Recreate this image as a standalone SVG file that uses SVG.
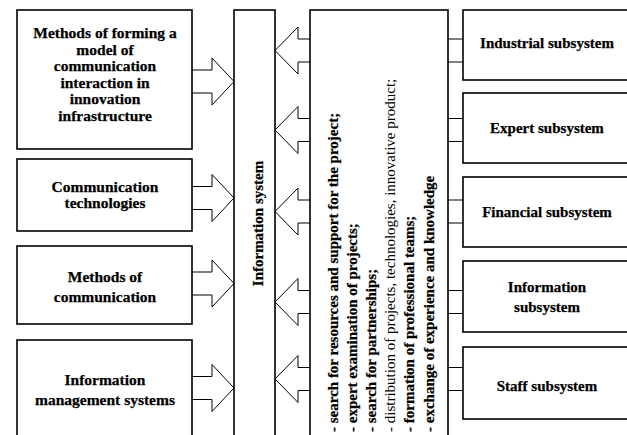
<svg xmlns="http://www.w3.org/2000/svg" width="627" height="435" viewBox="0 0 627 435">
<style>
.box{fill:#fff;stroke:#000;stroke-width:1.6}
.arr{fill:#fff;stroke:#000;stroke-width:1}
.t{font-family:"Liberation Serif","Times New Roman",serif;font-size:15px;font-weight:bold;fill:#000;stroke:#000;stroke-width:0.25}
.l{font-size:15.5px}
.c{text-anchor:middle}
.n{font-weight:normal;stroke:none}
</style>
<rect width="627" height="435" fill="#fff"/>
<g id="connectors">
  <polyline class="arr" points="192,70 212,70 212,58 234,81.5 212,105 212,93 192,93"/>
  <polyline class="arr" points="192,186.5 212,186.5 212,174.5 234,198 212,221.5 212,209.5 192,209.5"/>
  <polyline class="arr" points="192,272 212,272 212,260 234,283.5 212,307 212,295 192,295"/>
  <polyline class="arr" points="192,376.5 212,376.5 212,364.5 234,388 212,411.5 212,399.5 192,399.5"/>
  <polyline class="arr" points="463,39 298,39 298,27 275,50.5 298,74 298,62 463,62"/>
  <polyline class="arr" points="463,118.5 298,118.5 298,106.5 275,130 298,153.5 298,141.5 463,141.5"/>
  <polyline class="arr" points="463,200 298,200 298,188 275,211.5 298,235 298,223 463,223"/>
  <polyline class="arr" points="463,290.5 298,290.5 298,278.5 275,302 298,325.5 298,313.5 463,313.5"/>
  <polyline class="arr" points="463,367.5 298,367.5 298,355.5 275,379 298,402.5 298,390.5 463,390.5"/>
</g>
<g id="methods-forming">
  <rect class="box" x="17" y="10" width="175" height="139"/>
  <text class="t l c"><tspan x="105" y="38">Methods of forming a</tspan><tspan x="105" y="54.5">model of</tspan><tspan x="105" y="71">communication</tspan><tspan x="105" y="87.5">interaction in</tspan><tspan x="105" y="104">innovation</tspan><tspan x="105" y="120.5">infrastructure</tspan></text>
</g>
<g id="comm-tech">
  <rect class="box" x="17" y="159" width="175" height="72"/>
  <text class="t l c"><tspan x="105" y="191.5">Communication</tspan><tspan x="105" y="207.5">technologies</tspan></text>
</g>
<g id="methods-comm">
  <rect class="box" x="17" y="246" width="175" height="78"/>
  <text class="t l c"><tspan x="105" y="281.5">Methods of</tspan><tspan x="105" y="301.5">communication</tspan></text>
</g>
<g id="info-mgmt">
  <rect class="box" x="17" y="340" width="175" height="110"/>
  <text class="t l c"><tspan x="105" y="384.5">Information</tspan><tspan x="105" y="404.5">management systems</tspan></text>
</g>
<g id="info-system">
  <rect class="box" x="234" y="10" width="41" height="440"/>
  <text class="t c" transform="translate(263,223.5) rotate(-90)">Information system</text>
</g>
<g id="functions">
  <rect class="box" x="310" y="10" width="138" height="440"/>
  <text class="t" transform="translate(338,432) rotate(-90)">- search for resources and support for the project;</text>
  <text class="t" transform="translate(357,432) rotate(-90)">- expert examination of projects;</text>
  <text class="t" transform="translate(376,432) rotate(-90)">- search for partnerships;</text>
  <text class="t n" transform="translate(395,432) rotate(-90)">- distribution of projects, technologies, innovative product;</text>
  <text class="t" transform="translate(414,432) rotate(-90)">- formation of professional teams;</text>
  <text class="t" transform="translate(434,432) rotate(-90)">- exchange of experience and knowledge</text>
</g>
<g id="industrial">
  <rect class="box" x="463" y="10" width="168" height="70"/>
  <text class="t c" x="547" y="48">Industrial subsystem</text>
</g>
<g id="expert">
  <rect class="box" x="463" y="93" width="168" height="70"/>
  <text class="t c" x="547" y="133">Expert subsystem</text>
</g>
<g id="financial">
  <rect class="box" x="463" y="177" width="168" height="70"/>
  <text class="t c" x="547" y="217">Financial subsystem</text>
</g>
<g id="information-sub">
  <rect class="box" x="463" y="261" width="168" height="71"/>
  <text class="t c"><tspan x="547" y="292">Information</tspan><tspan x="547" y="312">subsystem</tspan></text>
</g>
<g id="staff">
  <rect class="box" x="463" y="347" width="168" height="72"/>
  <text class="t c" x="547" y="391">Staff subsystem</text>
</g>
</svg>
